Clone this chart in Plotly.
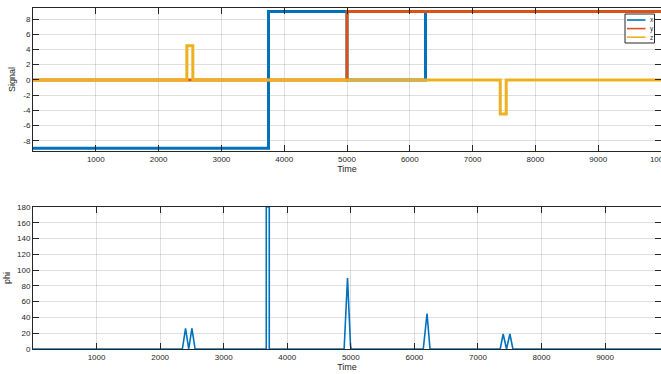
import plotly.graph_objects as go

# ---- data ----
# Signal breakpoints (step levels)
x_time = [0, 3750, 3750, 5000, 5000, 6250, 6250, 10000]
x_vals = [-9, -9, 9, 9, 0, 0, 9, 9]

y_time = [0, 5000, 5000, 10000]
y_vals = [0, 0, 9, 9]

z_time = [0, 2450, 2450, 2545, 2545, 7440, 7440, 7535, 7535, 10000]
z_vals = [0, 0, 4.5, 4.5, 0, 0, -4.5, -4.5, 0, 0]

# Angle phi
phi_time = [0, 2350, 2400, 2450, 2500, 2550, 3670, 3670, 3717, 3717,
            4895, 4948, 4995, 5005, 6140, 6199, 6246, 7350, 7397, 7450,
            7503, 7550, 9880]
phi_vals = [0, 0, 26, 0, 26, 0, 0, 180, 180, 0,
            0, 90, 5, 0, 0, 45, 0, 0, 19, 0,
            19, 0, 0]

series_names = ["x", "y", "z"]

top_xticks = [1000, 2000, 3000, 4000, 5000, 6000, 7000, 8000, 9000, 10000]
bot_xticks = [1000, 2000, 3000, 4000, 5000, 6000, 7000, 8000, 9000]
top_yticks = [-8, -6, -4, -2, 0, 2, 4, 6, 8]
bot_yticks = [0, 20, 40, 60, 80, 100, 120, 140, 160, 180]

BLUE = "#0072BD"
ORANGE = "#D95319"
YELLOW = "#EDB120"
COLORS = [BLUE, ORANGE, YELLOW]
AX = "#262626"
GRID = "rgba(38,38,38,0.15)"
FONT = "Liberation Sans, Arial, sans-serif"

W, H = 661, 374
ML, MR, MT, MB = 33, 0, 8, 25

fig = go.Figure()
for name, t, v, c in zip(series_names, [x_time, y_time, z_time],
                         [x_vals, y_vals, z_vals], COLORS):
    fig.add_trace(go.Scatter(x=t, y=v, mode="lines", name=name,
                             line=dict(color=c, width=3), xaxis="x", yaxis="y",
                             showlegend=False))
fig.add_trace(go.Scatter(x=phi_time, y=phi_vals, mode="lines", name="phi",
                         line=dict(color=BLUE, width=1.6), xaxis="x2", yaxis="y2",
                         showlegend=False))

common_axis = dict(showline=True, linecolor=AX, linewidth=1, mirror="ticks",
                   ticks="inside", ticklen=6, tickcolor=AX, tickwidth=1,
                   showgrid=True, gridcolor=GRID, gridwidth=1, zeroline=False,
                   ticklabeloverflow="allow", automargin=False,
                   tickfont=dict(family=FONT, size=8, color=AX))

plot_h = H - MT - MB
top_dom = [1 - 143 / plot_h, 1]
bot_dom = [0, 142 / plot_h]

# compact MATLAB-style legend box (paper coordinates from pixels)
def px_x(p):
    return (p - ML) / (W - ML - MR)

def px_y(p):
    return 1 - (p - MT) / plot_h

shapes = [dict(type="rect", xref="paper", yref="paper",
               x0=px_x(625), x1=px_x(654.5), y0=px_y(43), y1=px_y(14),
               line=dict(color=AX, width=1), fillcolor="white", layer="above")]
annotations = []
for i, (name, c) in enumerate(zip(series_names, COLORS)):
    yy = 20 + i * 8.6
    shapes.append(dict(type="line", xref="paper", yref="paper",
                       x0=px_x(627), x1=px_x(645.5), y0=px_y(yy), y1=px_y(yy),
                       line=dict(color=c, width=1.6), layer="above"))
    annotations.append(dict(text=name, xref="paper", yref="paper",
                            x=px_x(647.5), y=px_y(yy), xanchor="left", yanchor="middle",
                            showarrow=False, font=dict(family=FONT, size=6.5, color=AX)))

fig.update_layout(
    width=W, height=H,
    margin=dict(l=ML, r=MR, t=MT, b=MB),
    paper_bgcolor="white", plot_bgcolor="white",
    font=dict(family=FONT, size=8, color=AX),
    xaxis=dict(common_axis, domain=[0, 1], range=[0, 10000], anchor="y",
               tickvals=top_xticks, ticktext=[str(v) for v in top_xticks],
               title=dict(text="Time", standoff=3, font=dict(size=9, color=AX))),
    yaxis=dict(common_axis, domain=top_dom, range=[-9.35, 9.45], anchor="x",
               tickvals=top_yticks, ticktext=[str(v) for v in top_yticks],
               title=dict(text="Signal", standoff=6, font=dict(size=9, color=AX))),
    xaxis2=dict(common_axis, domain=[0, 1], range=[0, 9880], anchor="y2",
                tickvals=bot_xticks, ticktext=[str(v) for v in bot_xticks],
                title=dict(text="Time", standoff=3, font=dict(size=9, color=AX))),
    yaxis2=dict(common_axis, domain=bot_dom, range=[0, 180], anchor="x2",
                tickvals=bot_yticks, ticktext=[str(v) for v in bot_yticks],
                title=dict(text="phi", standoff=4, font=dict(size=9, color=AX))),
    shapes=shapes,
    annotations=annotations,
    showlegend=False,
)

fig.write_html("out.html")
